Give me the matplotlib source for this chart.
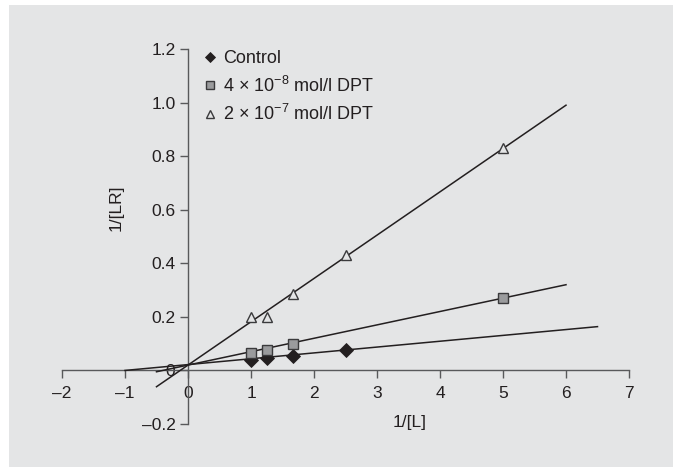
import matplotlib
matplotlib.use("Agg")
import matplotlib.pyplot as plt
from matplotlib.patches import Rectangle
import numpy as np

plt.rcParams['font.family'] = ['Liberation Sans Narrow', 'Liberation Sans', 'DejaVu Sans']
plt.rcParams['mathtext.fontset'] = 'custom'
plt.rcParams['mathtext.rm'] = 'Liberation Sans'
plt.rcParams['mathtext.it'] = 'Liberation Sans'

# Data
x_control = [1.0, 1.25, 1.67, 2.5]
y_control = [0.038, 0.045, 0.053, 0.075]
x_dpt8 = [1.0, 1.25, 1.67, 5.0]
y_dpt8 = [0.065, 0.075, 0.100, 0.270]
x_dpt7 = [1.0, 1.25, 1.67, 2.5, 5.0]
y_dpt7 = [0.200, 0.200, 0.285, 0.430, 0.830]

# Fitted lines: (x start, x end, slope, intercept)
fit_control = (-1.0, 6.5, 0.0218, 0.0218)
fit_dpt8 = (-0.5, 6.0, 0.0500, 0.020)
fit_dpt7 = (-0.5, 6.0, 0.1617, 0.020)

labels = ['Control',
          '4 \u00d7 10$^{\u22128}$ mol/l DPT',
          '2 \u00d7 10$^{\u22127}$ mol/l DPT']

x_ticks = [-2, -1, 0, 1, 2, 3, 4, 5, 6, 7]
y_ticks = [-0.2, 0, 0.2, 0.4, 0.6, 0.8, 1.0, 1.2]
y_ticklabels = ['\u20130.2', '0', '0.2', '0.4', '0.6', '0.8', '1.0', '1.2']
x_ticklabels = ['\u20132', '\u20131', '0', '1', '2', '3', '4', '5', '6', '7']

W, H = 673, 467
bg = '#e4e5e6'
ink = '#231f20'
fig = plt.figure(figsize=(W / 100, H / 100), dpi=100)
fig.patch.set_facecolor('white')
fig.patches.append(Rectangle((9 / W, 0), 1 - 9 / W, (H - 5) / H,
                             transform=fig.transFigure, facecolor=bg,
                             edgecolor='none', zorder=-10))

ax = fig.add_axes([62 / W, (H - 424) / H, (629 - 62) / W, (424 - 49) / H])
ax.set_facecolor('none')
ax.set_xlim(-2, 7)
ax.set_ylim(-0.2, 1.2)

for s in ['top', 'right']:
    ax.spines[s].set_visible(False)
ax.spines['left'].set_position(('data', 0))
ax.spines['bottom'].set_position(('data', 0))
for s in ['left', 'bottom']:
    ax.spines[s].set_color('#58595b')
    ax.spines[s].set_linewidth(1.0)

ax.set_xticks(x_ticks)
ax.set_xticklabels(x_ticklabels)
ax.set_yticks(y_ticks)
ax.set_yticklabels(y_ticklabels)
ax.tick_params(axis='both', direction='out', length=6, width=1.0,
               color='#58595b', labelsize=12.5, labelcolor=ink)
ax.tick_params(axis='x', pad=5)
ax.tick_params(axis='y', pad=3)

for fit in [fit_control, fit_dpt8, fit_dpt7]:
    x0, x1, m, b = fit
    xs = np.array([x0, x1])
    ax.plot(xs, m * xs + b, color=ink, lw=1.1, zorder=3)

ax.plot(x_control, y_control, ls='none', marker='D', ms=7.5,
        mfc=ink, mec=ink, mew=0.6, zorder=4, label=labels[0])
ax.plot(x_dpt8, y_dpt8, ls='none', marker='s', ms=7.5,
        mfc='#9a9b9d', mec='#3a3a3c', mew=1.0, zorder=4, label=labels[1])
ax.plot(x_dpt7, y_dpt7, ls='none', marker='^', ms=7.5,
        mfc=bg, mec='#3a3a3c', mew=1.0, zorder=4, label=labels[2])

leg = ax.legend(loc='upper left', bbox_to_anchor=(205 / W, (H - 50) / H),
                bbox_transform=fig.transFigure, frameon=False,
                fontsize=13, markerscale=0.7, handlelength=0.6,
                handletextpad=0.4, labelspacing=0.47, borderpad=0,
                borderaxespad=0)
for t in leg.get_texts():
    t.set_color(ink)

ax.text((116 - 62) / 567, (424 - 208) / 375, '1/[LR]', rotation=90,
        transform=ax.transAxes, ha='center', va='center', fontsize=12.5, color=ink)
ax.text((410 - 62) / 567, (424 - 422) / 375, '1/[L]',
        transform=ax.transAxes, ha='center', va='center', fontsize=12.5, color=ink)

fig.savefig('out.png', dpi=100, facecolor=fig.get_facecolor())
